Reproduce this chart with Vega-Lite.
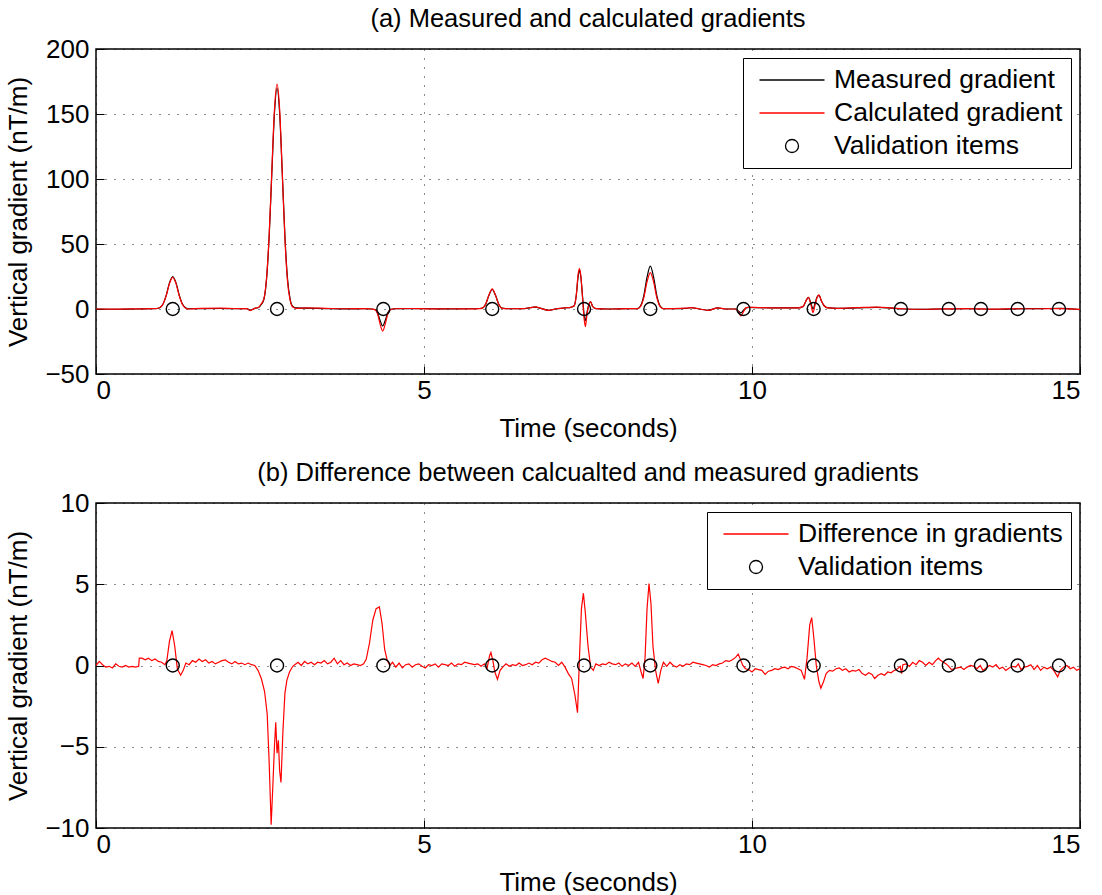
{
  "$schema": "https://vega.github.io/schema/vega-lite/v6.json",
  "background": "white",
  "padding": {"left": 5, "right": 5, "top": 5, "bottom": 0},
  "spacing": 17,
  "config": {
    "font": "Liberation Sans",
    "view": {"stroke": "black", "strokeWidth": 1.5},
    "title": {"fontSize": 25.5, "fontWeight": "normal", "font": "Liberation Sans", "color": "black", "offset": 4},
    "axis": {
      "domain": false, "ticks": true, "tickSize": -8, "tickColor": "black", "tickWidth": 1,
      "labelFontSize": 26, "labelColor": "black", "labelFont": "Liberation Sans", "labelPadding": 15,
      "titleFontSize": 26, "titleFontWeight": "normal", "titleColor": "black", "titleFont": "Liberation Sans",
      "grid": true, "gridColor": "black", "gridDash": [1, 8], "gridWidth": 1, "gridOpacity": 0.9
    },
    "legend": {
      "labelFontSize": 26.5, "labelFont": "Liberation Sans", "labelColor": "black", "labelLimit": 500,
      "strokeColor": "black", "fillColor": "white", "padding": 8, "rowPadding": 5,
      "symbolStrokeWidth": 1.3, "symbolSize": 676, "symbolOffset": 27, "labelOffset": 28, "symbolFillColor": "transparent", "symbolOpacity": 1
    }
  },
  "resolve": {"scale": {"color": "independent", "shape": "independent"}, "legend": {"color": "independent", "shape": "independent"}},
  "datasets": {
    "top": [
      {"t": 0, "measured": 0, "calculated": 0},
      {"t": 0.3, "measured": -0.2, "calculated": -0.1},
      {"t": 0.6, "measured": 0, "calculated": 0.1},
      {"t": 0.85, "measured": 0.2, "calculated": 0.3},
      {"t": 0.92, "measured": 0.3, "calculated": 0.4},
      {"t": 0.97, "measured": 0.9, "calculated": 1.0},
      {"t": 1.02, "measured": 3.6, "calculated": 3.7},
      {"t": 1.07, "measured": 10.5, "calculated": 10.2},
      {"t": 1.12, "measured": 20.1, "calculated": 19.5},
      {"t": 1.17, "measured": 25, "calculated": 24.3},
      {"t": 1.22, "measured": 20.1, "calculated": 19.5},
      {"t": 1.27, "measured": 10.5, "calculated": 10.0},
      {"t": 1.32, "measured": 3.6, "calculated": 3.2},
      {"t": 1.37, "measured": 0.8, "calculated": 0.5},
      {"t": 1.42, "measured": 0.2, "calculated": 0},
      {"t": 1.6, "measured": 0.3, "calculated": 0.5},
      {"t": 1.9, "measured": 0.4, "calculated": 0.6},
      {"t": 2.1, "measured": 0.2, "calculated": 0.4},
      {"t": 2.3, "measured": 0.3, "calculated": 0.3},
      {"t": 2.35, "measured": -1.0, "calculated": -1.2},
      {"t": 2.42, "measured": 0.5, "calculated": 0.5},
      {"t": 2.48, "measured": 1.2, "calculated": 1.4},
      {"t": 2.52, "measured": 3.5, "calculated": 4.0},
      {"t": 2.56, "measured": 7.5, "calculated": 8.0},
      {"t": 2.6, "measured": 23, "calculated": 24},
      {"t": 2.64, "measured": 56, "calculated": 57},
      {"t": 2.68, "measured": 104, "calculated": 106},
      {"t": 2.72, "measured": 150, "calculated": 153},
      {"t": 2.76, "measured": 170, "calculated": 173},
      {"t": 2.8, "measured": 150, "calculated": 153},
      {"t": 2.84, "measured": 104, "calculated": 104},
      {"t": 2.88, "measured": 56, "calculated": 54},
      {"t": 2.92, "measured": 23, "calculated": 21},
      {"t": 2.96, "measured": 7.5, "calculated": 6.5},
      {"t": 3.0, "measured": 2.0, "calculated": 1.5},
      {"t": 3.05, "measured": 0.8, "calculated": 0.5},
      {"t": 3.2, "measured": 0.6, "calculated": 0.8},
      {"t": 3.5, "measured": 0.3, "calculated": 0.5},
      {"t": 3.8, "measured": 0.1, "calculated": 0.2},
      {"t": 4.1, "measured": 0.2, "calculated": 0.3},
      {"t": 4.2, "measured": 0, "calculated": 0},
      {"t": 4.25, "measured": -0.4, "calculated": -0.5},
      {"t": 4.29, "measured": -2.7, "calculated": -3.5},
      {"t": 4.33, "measured": -8.7, "calculated": -11.4},
      {"t": 4.37, "measured": -13, "calculated": -17},
      {"t": 4.41, "measured": -8.7, "calculated": -11.4},
      {"t": 4.45, "measured": -2.7, "calculated": -3.5},
      {"t": 4.49, "measured": -0.4, "calculated": -0.5},
      {"t": 4.55, "measured": 0.2, "calculated": 0.2},
      {"t": 4.8, "measured": 0.3, "calculated": 0.4},
      {"t": 5.1, "measured": 0.2, "calculated": 0.1},
      {"t": 5.4, "measured": 0.1, "calculated": 0.2},
      {"t": 5.7, "measured": 0.2, "calculated": 0.1},
      {"t": 5.85, "measured": 0.4, "calculated": 0.3},
      {"t": 5.89, "measured": 0.7, "calculated": 0.7},
      {"t": 5.94, "measured": 3.7, "calculated": 3.8},
      {"t": 5.99, "measured": 10.6, "calculated": 10.8},
      {"t": 6.04, "measured": 15, "calculated": 15.5},
      {"t": 6.09, "measured": 10.6, "calculated": 10.5},
      {"t": 6.14, "measured": 3.7, "calculated": 3.4},
      {"t": 6.19, "measured": 0.7, "calculated": 0.5},
      {"t": 6.3, "measured": 0.2, "calculated": 0.2},
      {"t": 6.5, "measured": 0.3, "calculated": 0.3},
      {"t": 6.62, "measured": 1.0, "calculated": 1.0},
      {"t": 6.7, "measured": 1.5, "calculated": 1.6},
      {"t": 6.78, "measured": 0.5, "calculated": 0.5},
      {"t": 6.9, "measured": -1.0, "calculated": -1.0},
      {"t": 7.0, "measured": 0, "calculated": 0},
      {"t": 7.15, "measured": 0.8, "calculated": 0.8},
      {"t": 7.25, "measured": 1.5, "calculated": 1.5},
      {"t": 7.29, "measured": 2.5, "calculated": 2.5},
      {"t": 7.32, "measured": 10, "calculated": 10},
      {"t": 7.35, "measured": 25, "calculated": 27},
      {"t": 7.37, "measured": 30, "calculated": 31},
      {"t": 7.39, "measured": 25, "calculated": 26},
      {"t": 7.42, "measured": 8, "calculated": 6},
      {"t": 7.44, "measured": -4, "calculated": -7},
      {"t": 7.46, "measured": -9, "calculated": -13.6},
      {"t": 7.48, "measured": -4, "calculated": -6},
      {"t": 7.51, "measured": 3, "calculated": 2.5},
      {"t": 7.54, "measured": 5.5, "calculated": 5.5},
      {"t": 7.57, "measured": 2, "calculated": 2},
      {"t": 7.62, "measured": 0.3, "calculated": 0.3},
      {"t": 7.8, "measured": 0, "calculated": 0},
      {"t": 8.1, "measured": 0.3, "calculated": 0.3},
      {"t": 8.25, "measured": 0.3, "calculated": 0.3},
      {"t": 8.3, "measured": 2.3, "calculated": 1.9},
      {"t": 8.35, "measured": 10.1, "calculated": 8.6},
      {"t": 8.4, "measured": 24.5, "calculated": 20.8},
      {"t": 8.45, "measured": 33, "calculated": 28},
      {"t": 8.5, "measured": 24.5, "calculated": 20.8},
      {"t": 8.55, "measured": 10.1, "calculated": 8.6},
      {"t": 8.6, "measured": 2.3, "calculated": 1.9},
      {"t": 8.65, "measured": 0.3, "calculated": 0.3},
      {"t": 8.8, "measured": 0.3, "calculated": 0.3},
      {"t": 9.0, "measured": 0.5, "calculated": 0.6},
      {"t": 9.07, "measured": 1.0, "calculated": 1.1},
      {"t": 9.2, "measured": 0, "calculated": 0},
      {"t": 9.33, "measured": -1.0, "calculated": -1.0},
      {"t": 9.48, "measured": 0.8, "calculated": 0.9},
      {"t": 9.6, "measured": 0, "calculated": 0},
      {"t": 9.75, "measured": 0, "calculated": 0},
      {"t": 9.79, "measured": -1.5, "calculated": -2},
      {"t": 9.83, "measured": -3, "calculated": -5.4},
      {"t": 9.87, "measured": -1, "calculated": -2},
      {"t": 9.91, "measured": 0.8, "calculated": 1.0},
      {"t": 9.95, "measured": 1.2, "calculated": 1.3},
      {"t": 10.1, "measured": 1.0, "calculated": 1.1},
      {"t": 10.4, "measured": 0.8, "calculated": 0.9},
      {"t": 10.7, "measured": 0.8, "calculated": 0.9},
      {"t": 10.78, "measured": 2, "calculated": 2},
      {"t": 10.82, "measured": 6, "calculated": 6},
      {"t": 10.86, "measured": 9, "calculated": 9},
      {"t": 10.9, "measured": 4, "calculated": 3},
      {"t": 10.93, "measured": 0, "calculated": -2.8},
      {"t": 10.96, "measured": 4, "calculated": 3},
      {"t": 10.99, "measured": 9, "calculated": 8.5},
      {"t": 11.02, "measured": 10.5, "calculated": 10.8},
      {"t": 11.06, "measured": 6, "calculated": 6},
      {"t": 11.1, "measured": 2.5, "calculated": 2.5},
      {"t": 11.16, "measured": 0.8, "calculated": 0.8},
      {"t": 11.3, "measured": 0.5, "calculated": 0.5},
      {"t": 11.6, "measured": 0.8, "calculated": 1.0},
      {"t": 11.9, "measured": 1.2, "calculated": 1.5},
      {"t": 12.15, "measured": 0.6, "calculated": 0.7},
      {"t": 12.3, "measured": 0, "calculated": 0.2},
      {"t": 12.6, "measured": -0.3, "calculated": -0.2},
      {"t": 12.9, "measured": 0, "calculated": 0.1},
      {"t": 13.3, "measured": 0.2, "calculated": 0.3},
      {"t": 13.7, "measured": -0.2, "calculated": -0.1},
      {"t": 14.0, "measured": 0.1, "calculated": 0.2},
      {"t": 14.4, "measured": 0.3, "calculated": 0.2},
      {"t": 14.7, "measured": 0.5, "calculated": 0.3},
      {"t": 15.0, "measured": -0.5, "calculated": -0.3}
    ],
    "diff": [
      {"t": 0, "d": 0.0}, {"t": 0.05, "d": 0.25}, {"t": 0.1, "d": 0.05}, {"t": 0.15, "d": -0.1}, {"t": 0.2, "d": -0.05},
      {"t": 0.25, "d": -0.15}, {"t": 0.3, "d": 0.1}, {"t": 0.35, "d": -0.05}, {"t": 0.4, "d": -0.1}, {"t": 0.45, "d": 0.0},
      {"t": 0.5, "d": -0.1}, {"t": 0.55, "d": -0.05}, {"t": 0.6, "d": -0.1}, {"t": 0.65, "d": -0.05}, {"t": 0.66, "d": 0.45},
      {"t": 0.7, "d": 0.45}, {"t": 0.75, "d": 0.35}, {"t": 0.8, "d": 0.45}, {"t": 0.85, "d": 0.3}, {"t": 0.9, "d": 0.4},
      {"t": 0.95, "d": 0.25}, {"t": 1.0, "d": 0.2}, {"t": 1.05, "d": 0.05}, {"t": 1.08, "d": 0.3}, {"t": 1.12, "d": 1.5},
      {"t": 1.16, "d": 2.15}, {"t": 1.2, "d": 1.2}, {"t": 1.24, "d": -0.2}, {"t": 1.29, "d": -0.6}, {"t": 1.33, "d": -0.3},
      {"t": 1.37, "d": 0.15}, {"t": 1.42, "d": 0.05}, {"t": 1.47, "d": 0.3}, {"t": 1.52, "d": 0.2}, {"t": 1.57, "d": 0.4},
      {"t": 1.62, "d": 0.25}, {"t": 1.67, "d": 0.35}, {"t": 1.72, "d": 0.15}, {"t": 1.77, "d": 0.25}, {"t": 1.82, "d": 0.1},
      {"t": 1.87, "d": 0.2}, {"t": 1.92, "d": 0.3}, {"t": 1.97, "d": 0.35}, {"t": 2.02, "d": 0.2}, {"t": 2.07, "d": 0.1},
      {"t": 2.12, "d": 0.25}, {"t": 2.17, "d": 0.1}, {"t": 2.22, "d": 0.15}, {"t": 2.27, "d": 0.05}, {"t": 2.32, "d": 0.15},
      {"t": 2.37, "d": 0.05}, {"t": 2.42, "d": 0.0}, {"t": 2.47, "d": -0.3}, {"t": 2.52, "d": -0.8}, {"t": 2.57, "d": -1.6},
      {"t": 2.61, "d": -3.0}, {"t": 2.64, "d": -6.0}, {"t": 2.67, "d": -9.8}, {"t": 2.7, "d": -7.0}, {"t": 2.72, "d": -5.0},
      {"t": 2.74, "d": -3.5}, {"t": 2.76, "d": -5.4}, {"t": 2.78, "d": -4.6}, {"t": 2.8, "d": -6.5}, {"t": 2.82, "d": -7.2},
      {"t": 2.85, "d": -4.0}, {"t": 2.88, "d": -1.7}, {"t": 2.91, "d": -0.9}, {"t": 2.95, "d": -0.4}, {"t": 3.0, "d": -0.05},
      {"t": 3.03, "d": 0.05}, {"t": 3.08, "d": 0.2}, {"t": 3.13, "d": 0.0}, {"t": 3.18, "d": 0.25}, {"t": 3.23, "d": 0.1},
      {"t": 3.28, "d": 0.2}, {"t": 3.33, "d": 0.05}, {"t": 3.38, "d": 0.2}, {"t": 3.43, "d": 0.15}, {"t": 3.48, "d": 0.3},
      {"t": 3.53, "d": 0.1}, {"t": 3.58, "d": 0.2}, {"t": 3.63, "d": 0.45}, {"t": 3.68, "d": 0.1}, {"t": 3.73, "d": 0.3},
      {"t": 3.78, "d": 0.05}, {"t": 3.83, "d": 0.15}, {"t": 3.88, "d": 0.0}, {"t": 3.93, "d": 0.1}, {"t": 3.98, "d": 0.05},
      {"t": 4.03, "d": 0.0}, {"t": 4.08, "d": 0.1}, {"t": 4.12, "d": 0.4}, {"t": 4.17, "d": 1.4}, {"t": 4.22, "d": 2.8},
      {"t": 4.27, "d": 3.5}, {"t": 4.32, "d": 3.6}, {"t": 4.36, "d": 2.6}, {"t": 4.4, "d": 1.0}, {"t": 4.44, "d": 0.3},
      {"t": 4.48, "d": 0.0}, {"t": 4.52, "d": 0.2}, {"t": 4.57, "d": -0.1}, {"t": 4.62, "d": 0.15}, {"t": 4.67, "d": -0.15},
      {"t": 4.72, "d": 0.05}, {"t": 4.77, "d": 0.1}, {"t": 4.82, "d": -0.1}, {"t": 4.87, "d": 0.05}, {"t": 4.92, "d": 0.1},
      {"t": 4.97, "d": -0.05}, {"t": 5.02, "d": -0.15}, {"t": 5.07, "d": 0.05}, {"t": 5.12, "d": 0.0}, {"t": 5.17, "d": 0.1},
      {"t": 5.22, "d": -0.1}, {"t": 5.27, "d": 0.1}, {"t": 5.32, "d": 0.05}, {"t": 5.37, "d": 0.0}, {"t": 5.42, "d": 0.15},
      {"t": 5.47, "d": -0.05}, {"t": 5.52, "d": 0.1}, {"t": 5.57, "d": 0.05}, {"t": 5.62, "d": 0.2}, {"t": 5.67, "d": 0.15},
      {"t": 5.72, "d": 0.1}, {"t": 5.77, "d": 0.05}, {"t": 5.82, "d": 0.1}, {"t": 5.87, "d": -0.05}, {"t": 5.92, "d": 0.1},
      {"t": 5.96, "d": -0.2}, {"t": 6.0, "d": 0.6}, {"t": 6.02, "d": 0.8}, {"t": 6.05, "d": 0.3}, {"t": 6.08, "d": -0.4},
      {"t": 6.12, "d": -0.85}, {"t": 6.16, "d": -0.3}, {"t": 6.2, "d": -0.1}, {"t": 6.25, "d": 0.1}, {"t": 6.3, "d": -0.05},
      {"t": 6.35, "d": 0.05}, {"t": 6.4, "d": 0.0}, {"t": 6.45, "d": 0.15}, {"t": 6.5, "d": 0.0}, {"t": 6.55, "d": 0.05},
      {"t": 6.6, "d": 0.15}, {"t": 6.65, "d": 0.05}, {"t": 6.7, "d": 0.2}, {"t": 6.75, "d": 0.15}, {"t": 6.8, "d": 0.35},
      {"t": 6.85, "d": 0.45}, {"t": 6.9, "d": 0.35}, {"t": 6.95, "d": 0.25}, {"t": 7.0, "d": 0.2}, {"t": 7.05, "d": 0.0},
      {"t": 7.1, "d": 0.2}, {"t": 7.15, "d": -0.1}, {"t": 7.2, "d": -0.5}, {"t": 7.25, "d": -0.8}, {"t": 7.3, "d": -1.8},
      {"t": 7.34, "d": -2.9}, {"t": 7.37, "d": 0.5}, {"t": 7.4, "d": 3.5}, {"t": 7.43, "d": 4.45}, {"t": 7.46, "d": 3.2},
      {"t": 7.5, "d": 1.2}, {"t": 7.54, "d": -0.1}, {"t": 7.58, "d": -0.3}, {"t": 7.62, "d": 0.1}, {"t": 7.67, "d": 0.0},
      {"t": 7.72, "d": 0.1}, {"t": 7.77, "d": 0.05}, {"t": 7.82, "d": 0.2}, {"t": 7.87, "d": 0.1}, {"t": 7.92, "d": 0.05},
      {"t": 7.97, "d": 0.15}, {"t": 8.02, "d": -0.05}, {"t": 8.07, "d": 0.1}, {"t": 8.12, "d": 0.0}, {"t": 8.17, "d": 0.15},
      {"t": 8.22, "d": -0.05}, {"t": 8.27, "d": 0.2}, {"t": 8.31, "d": -0.4}, {"t": 8.34, "d": -0.8}, {"t": 8.37, "d": 0.5},
      {"t": 8.4, "d": 3.5}, {"t": 8.43, "d": 5.05}, {"t": 8.46, "d": 3.8}, {"t": 8.49, "d": 1.2}, {"t": 8.53, "d": -0.3},
      {"t": 8.57, "d": -1.1}, {"t": 8.61, "d": -0.3}, {"t": 8.65, "d": 0.2}, {"t": 8.7, "d": -0.05}, {"t": 8.75, "d": 0.2},
      {"t": 8.8, "d": 0.0}, {"t": 8.85, "d": -0.1}, {"t": 8.9, "d": 0.05}, {"t": 8.95, "d": -0.05}, {"t": 9.0, "d": 0.1},
      {"t": 9.05, "d": 0.05}, {"t": 9.1, "d": 0.2}, {"t": 9.15, "d": 0.15}, {"t": 9.2, "d": 0.1}, {"t": 9.25, "d": 0.05},
      {"t": 9.3, "d": 0.0}, {"t": 9.35, "d": -0.1}, {"t": 9.4, "d": 0.05}, {"t": 9.45, "d": 0.0}, {"t": 9.5, "d": 0.1},
      {"t": 9.55, "d": 0.15}, {"t": 9.6, "d": 0.3}, {"t": 9.65, "d": 0.25}, {"t": 9.7, "d": 0.35}, {"t": 9.75, "d": 0.5},
      {"t": 9.79, "d": 0.7}, {"t": 9.83, "d": 0.3}, {"t": 9.86, "d": 0.0}, {"t": 9.9, "d": -0.2}, {"t": 9.95, "d": -0.25},
      {"t": 10.0, "d": -0.4}, {"t": 10.05, "d": -0.2}, {"t": 10.1, "d": -0.25}, {"t": 10.15, "d": -0.3}, {"t": 10.2, "d": -0.55},
      {"t": 10.25, "d": -0.35}, {"t": 10.3, "d": -0.3}, {"t": 10.35, "d": -0.2}, {"t": 10.4, "d": -0.25}, {"t": 10.45, "d": -0.15},
      {"t": 10.5, "d": -0.1}, {"t": 10.55, "d": -0.2}, {"t": 10.6, "d": -0.05}, {"t": 10.65, "d": -0.1}, {"t": 10.7, "d": -0.2},
      {"t": 10.75, "d": -0.3}, {"t": 10.8, "d": -0.85}, {"t": 10.84, "d": 0.5}, {"t": 10.88, "d": 2.5}, {"t": 10.91, "d": 2.95},
      {"t": 10.94, "d": 1.8}, {"t": 10.98, "d": 0.0}, {"t": 11.02, "d": -1.0}, {"t": 11.05, "d": -1.4}, {"t": 11.09, "d": -1.0},
      {"t": 11.13, "d": -0.5}, {"t": 11.18, "d": -0.3}, {"t": 11.23, "d": -0.35}, {"t": 11.28, "d": -0.2}, {"t": 11.33, "d": -0.15},
      {"t": 11.38, "d": -0.3}, {"t": 11.43, "d": -0.2}, {"t": 11.48, "d": -0.4}, {"t": 11.53, "d": -0.3}, {"t": 11.58, "d": -0.35},
      {"t": 11.63, "d": -0.25}, {"t": 11.68, "d": -0.5}, {"t": 11.73, "d": -0.6}, {"t": 11.78, "d": -0.45}, {"t": 11.83, "d": -0.55},
      {"t": 11.87, "d": -0.8}, {"t": 11.92, "d": -0.6}, {"t": 11.97, "d": -0.5}, {"t": 12.02, "d": -0.6}, {"t": 12.07, "d": -0.4},
      {"t": 12.12, "d": -0.45}, {"t": 12.17, "d": -0.3}, {"t": 12.22, "d": -0.2}, {"t": 12.26, "d": -0.05}, {"t": 12.28, "d": -0.5},
      {"t": 12.3, "d": 0.05}, {"t": 12.35, "d": 0.1}, {"t": 12.4, "d": -0.05}, {"t": 12.45, "d": 0.2}, {"t": 12.5, "d": 0.05},
      {"t": 12.55, "d": 0.3}, {"t": 12.6, "d": 0.2}, {"t": 12.65, "d": 0.0}, {"t": 12.7, "d": 0.2}, {"t": 12.75, "d": 0.05},
      {"t": 12.8, "d": 0.3}, {"t": 12.84, "d": 0.45}, {"t": 12.88, "d": 0.3}, {"t": 12.92, "d": 0.2}, {"t": 12.96, "d": 0.1},
      {"t": 13.0, "d": -0.05}, {"t": 13.04, "d": -0.25}, {"t": 13.08, "d": -0.2}, {"t": 13.13, "d": -0.15}, {"t": 13.18, "d": -0.1},
      {"t": 13.23, "d": -0.25}, {"t": 13.28, "d": -0.1}, {"t": 13.33, "d": 0.0}, {"t": 13.38, "d": -0.05}, {"t": 13.43, "d": -0.2},
      {"t": 13.48, "d": 0.0}, {"t": 13.52, "d": -0.3}, {"t": 13.57, "d": -0.15}, {"t": 13.62, "d": 0.0}, {"t": 13.67, "d": -0.1},
      {"t": 13.72, "d": 0.05}, {"t": 13.77, "d": -0.2}, {"t": 13.82, "d": -0.1}, {"t": 13.87, "d": -0.3}, {"t": 13.92, "d": -0.15},
      {"t": 13.97, "d": -0.05}, {"t": 14.02, "d": -0.1}, {"t": 14.06, "d": 0.1}, {"t": 14.1, "d": -0.25}, {"t": 14.15, "d": -0.1},
      {"t": 14.2, "d": -0.05}, {"t": 14.25, "d": 0.05}, {"t": 14.3, "d": -0.25}, {"t": 14.35, "d": 0.0}, {"t": 14.4, "d": -0.3},
      {"t": 14.45, "d": -0.1}, {"t": 14.5, "d": -0.2}, {"t": 14.55, "d": -0.1}, {"t": 14.6, "d": -0.3}, {"t": 14.66, "d": -0.7},
      {"t": 14.7, "d": -0.3}, {"t": 14.75, "d": -0.1}, {"t": 14.8, "d": 0.0}, {"t": 14.85, "d": -0.2}, {"t": 14.9, "d": -0.1},
      {"t": 14.95, "d": -0.3}, {"t": 15.0, "d": -0.2}
    ],
    "val": [
      {"t": 1.17, "v": 0, "s": "validation"}, {"t": 2.76, "v": 0, "s": "validation"}, {"t": 4.38, "v": 0, "s": "validation"},
      {"t": 6.04, "v": 0, "s": "validation"}, {"t": 7.44, "v": 0, "s": "validation"}, {"t": 8.45, "v": 0, "s": "validation"},
      {"t": 9.87, "v": 0, "s": "validation"}, {"t": 10.94, "v": 0, "s": "validation"}, {"t": 12.27, "v": 0, "s": "validation"},
      {"t": 13.0, "v": 0, "s": "validation"}, {"t": 13.49, "v": 0, "s": "validation"}, {"t": 14.05, "v": 0, "s": "validation"},
      {"t": 14.68, "v": 0, "s": "validation"}
    ]
  },
  "vconcat": [
    {
      "width": 984, "height": 325,
      "title": {"text": "(a) Measured and calculated gradients"},
      "encoding": {
        "x": {"field": "t", "type": "quantitative", "scale": {"domain": [0, 15], "nice": false}, "axis": {"title": "Time (seconds)", "values": [0, 5, 10, 15], "labelPadding": 11, "titlePadding": 12}},
        "y": {"field": "v", "type": "quantitative", "scale": {"domain": [-50, 200], "nice": false}, "axis": {"title": "Vertical gradient (nT/m)", "values": [-50, 0, 50, 100, 150, 200], "titlePadding": 13}}
      },
      "layer": [
        {
          "data": {"name": "top"},
          "transform": [{"fold": ["measured"], "as": ["s", "v"]}],
          "mark": {"type": "line", "interpolate": "monotone", "strokeWidth": 1.2, "clip": true},
          "encoding": {
            "color": {"field": "s", "type": "nominal", "scale": {"domain": ["measured", "calculated", "validation"], "range": ["black", "red", "black"]},
              "legend": {"title": null, "orient": "top-right", "offset": 9, "labelExpr": "datum.label == 'measured' ? 'Measured gradient' : datum.label == 'calculated' ? 'Calculated gradient' : 'Validation items'"}}
          }
        },
        {
          "data": {"name": "top"},
          "transform": [{"fold": ["calculated"], "as": ["s", "v"]}],
          "mark": {"type": "line", "interpolate": "monotone", "strokeWidth": 1.2, "clip": true},
          "encoding": {
            "color": {"field": "s", "type": "nominal"}
          }
        },
        {
          "data": {"name": "val"},
          "mark": {"type": "point", "filled": false, "size": 676, "strokeWidth": 1.4, "opacity": 1},
          "encoding": {
            "color": {"field": "s", "type": "nominal"},
            "shape": {"field": "s", "type": "nominal", "scale": {"domain": ["measured", "calculated", "validation"], "range": ["M-2.5,0H2.5", "M-2.5,0H2.5", "M-0.5,0A0.5,0.5 0 1,0 0.5,0A0.5,0.5 0 1,0 -0.5,0"]},
              "legend": {"title": null, "orient": "top-right", "offset": 9, "labelExpr": "datum.label == 'measured' ? 'Measured gradient' : datum.label == 'calculated' ? 'Calculated gradient' : 'Validation items'"}}
          }
        }
      ]
    },
    {
      "width": 984, "height": 325,
      "title": {"text": "(b) Difference between calcualted and measured gradients"},
      "encoding": {
        "x": {"field": "t", "type": "quantitative", "scale": {"domain": [0, 15], "nice": false}, "axis": {"title": "Time (seconds)", "values": [0, 5, 10, 15], "labelPadding": 11, "titlePadding": 12}},
        "y": {"field": "v", "type": "quantitative", "scale": {"domain": [-10, 10], "nice": false}, "axis": {"title": "Vertical gradient (nT/m)", "values": [-10, -5, 0, 5, 10], "titlePadding": 13}}
      },
      "layer": [
        {
          "data": {"name": "diff"},
          "transform": [{"fold": ["d"], "as": ["s", "v"]}],
          "mark": {"type": "line", "strokeWidth": 1.2, "clip": true},
          "encoding": {
            "color": {"field": "s", "type": "nominal", "scale": {"domain": ["d", "validation"], "range": ["red", "black"]},
              "legend": {"title": null, "orient": "top-right", "offset": 9, "labelExpr": "datum.label == 'd' ? 'Difference in gradients' : 'Validation items'"}}
          }
        },
        {
          "data": {"name": "val"},
          "mark": {"type": "point", "filled": false, "size": 676, "strokeWidth": 1.4, "opacity": 1},
          "encoding": {
            "color": {"field": "s", "type": "nominal"},
            "shape": {"field": "s", "type": "nominal", "scale": {"domain": ["d", "validation"], "range": ["M-2.5,0H2.5", "M-0.5,0A0.5,0.5 0 1,0 0.5,0A0.5,0.5 0 1,0 -0.5,0"]},
              "legend": {"title": null, "orient": "top-right", "offset": 9, "labelExpr": "datum.label == 'd' ? 'Difference in gradients' : 'Validation items'"}}
          }
        }
      ]
    }
  ]
}
